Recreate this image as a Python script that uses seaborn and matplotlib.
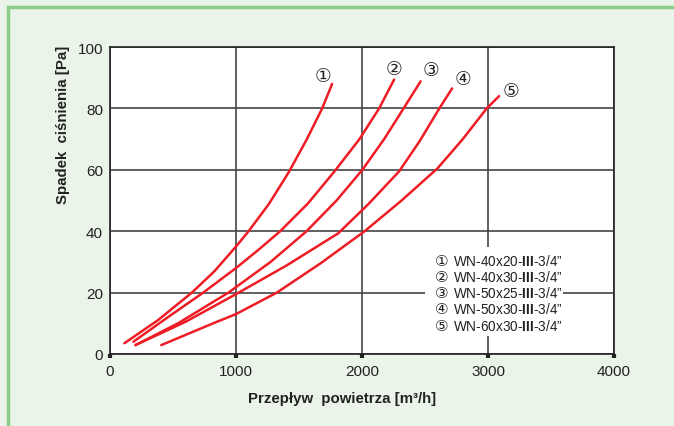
import matplotlib
matplotlib.use("Agg")
import matplotlib.pyplot as plt
import pandas as pd
import seaborn as sns
from matplotlib.patches import Rectangle

# Curve data: flow [m3/h] vs pressure drop [Pa]
q1 = [114, 380, 650, 830, 1000, 1100, 1260, 1420, 1560, 1684, 1763]
p1 = [3.5, 11, 20, 27, 35, 40, 48.8, 59.3, 69.8, 80, 88.0]
q2 = [186, 460, 740, 1000, 1180, 1351, 1570, 1782, 1980, 2136, 2255]
p2 = [4.0, 12, 20, 28, 34, 40, 49, 59.5, 70, 80, 89.4]
q3 = [202, 540, 940, 1275, 1560, 1798, 2003, 2176, 2330, 2465]
p3 = [2.9, 10, 20, 30, 40, 50, 60, 70, 80, 88.8]
q4 = [202, 600, 1000, 1400, 1811, 2050, 2295, 2460, 2614, 2715]
p4 = [2.9, 10.5, 19.5, 28.8, 39.3, 48.8, 59.5, 69.5, 80, 86.5]
q5 = [407, 819, 1000, 1324, 1670, 2021, 2314, 2600, 2800, 2990, 3088]
p5 = [2.9, 10, 13, 20, 29.5, 40, 50, 60.5, 70, 80, 84.0]

marks = ["①", "②", "③", "④", "⑤"]
mark_x = [1690, 2255, 2550, 2802, 3185]
mark_y = [90.6, 93.0, 92.6, 89.6, 85.8]
names = ["40x20", "40x30", "50x25", "50x30", "60x30"]

x_ticks = [0, 1000, 2000, 3000, 4000]
y_ticks = [0, 20, 40, 60, 80, 100]

rows = []
for i, (qs, ps) in enumerate([(q1, p1), (q2, p2), (q3, p3), (q4, p4), (q5, p5)]):
    for q, p in zip(qs, ps):
        rows.append({"Q": q, "dp": p, "curve": i + 1})
df = pd.DataFrame(rows)

sns.set_style("white")
plt.rcParams["font.family"] = ["Liberation Sans", "DejaVu Sans"]
plt.rcParams["mathtext.fontset"] = "custom"
plt.rcParams["mathtext.rm"] = "Liberation Sans"
plt.rcParams["mathtext.bf"] = "Liberation Sans:bold"

bg = "#eaf4e8"
fig = plt.figure(figsize=(6.74, 4.27), dpi=100, facecolor=bg)
# green frame, open to the right and bottom
fig.patches.append(Rectangle((8 / 674, -0.1), 1.2, 1.1 - 8 / 427, transform=fig.transFigure,
                             facecolor="none", edgecolor="#8ccd85", linewidth=2.5))

ax = fig.add_axes([110 / 674, 72 / 427, 504 / 674, 307 / 427])
ax.set_facecolor("white")

sns.lineplot(data=df, x="Q", y="dp", hue="curve", palette=["#ee1c25"] * 5,
             estimator=None, sort=False, legend=False, linewidth=1.8, ax=ax, zorder=3)

ax.set_xlim(0, 4000)
ax.set_ylim(0, 100)
ax.set_xticks(x_ticks)
ax.set_yticks(y_ticks)
ax.grid(True, color="#444444", linewidth=1.2)
ax.set_axisbelow(True)
for s in ax.spines.values():
    s.set_color("#222222")
    s.set_linewidth(1.2)

ax.tick_params(axis="x", length=3, width=3, color="#222222", pad=4, labelsize=11, labelcolor="#222222")
ax.tick_params(axis="y", length=0, pad=5, labelsize=11, labelcolor="#222222")
ax.tick_params(bottom=True, left=False)

ax.set_xlabel("Przepływ  powietrza [m³/h]", fontsize=10.8, fontweight="bold", color="#222222")
ax.set_ylabel("Spadek  ciśnienia [Pa]", fontsize=10.8, fontweight="bold", color="#222222")
ax.xaxis.set_label_coords(0.46, -0.12)
ax.yaxis.set_label_coords(-0.08, 0.75)

for m, x, y in zip(marks, mark_x, mark_y):
    ax.text(x, y, m, fontsize=13.5, ha="center", va="center", color="#222222",
            family=["DejaVu Sans"])

# legend box
ax.add_patch(Rectangle((2498, 5.9), 1094, 29.0, facecolor="white", edgecolor="none", zorder=1))
for i, (m, n) in enumerate(zip(marks, names)):
    yy = 30.6 - i * 5.3
    ax.text(2580, yy, m, fontsize=11, ha="left", va="center", color="#222222",
            family=["DejaVu Sans"], zorder=4)
    ax.text(2720, yy, "WN-" + n + r"-$\mathbf{III}$-3/4”", fontsize=9.8,
            ha="left", va="center", color="#222222", zorder=4)

fig.savefig("out.png", dpi=100, facecolor=bg)
